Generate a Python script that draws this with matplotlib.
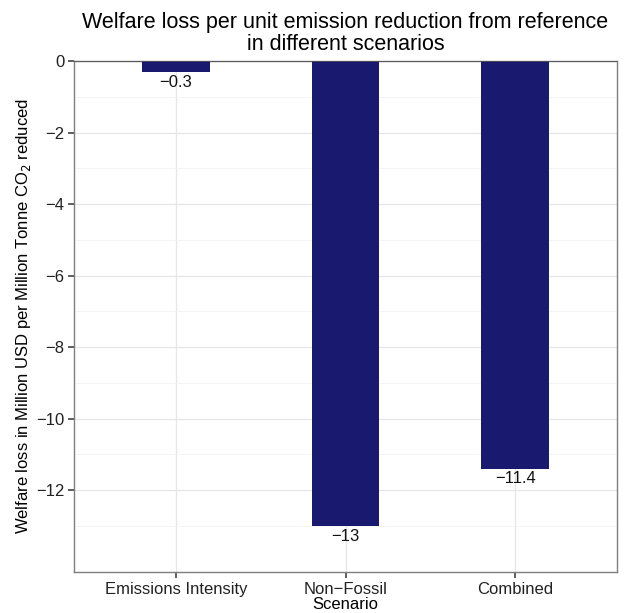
import numpy as np
import matplotlib.pyplot as plt

plt.rcParams['font.family'] = ['Liberation Sans', 'DejaVu Sans']

# data
scenarios = ['Emissions Intensity', 'Non\u2212Fossil', 'Combined']
welfare_loss = [-0.3, -13.0, -11.4]
labels = ['\u22120.3', '\u221213', '\u221211.4']
y_ticks = [0, -2, -4, -6, -8, -10, -12]

fig = plt.figure(figsize=(6.29, 6.13), dpi=100)
ax = fig.add_axes([74 / 629, 1 - 572 / 613, (617 - 74) / 629, (572 - 61) / 613])

x = np.arange(1, len(scenarios) + 1)
ax.bar(x, welfare_loss, width=0.4, color='#191970', zorder=3)

# labels under the bars
for xi, v, t in zip(x, welfare_loss, labels):
    ax.annotate(t, (xi, v), xytext=(0, -2), textcoords='offset points',
                ha='center', va='top', fontsize=12, color='#111111', zorder=4)

ax.axhline(0, color='#555555', linewidth=1.2, zorder=4)

ax.set_xlim(0.4, 3.6)
ax.set_ylim(-14.29, 0)
ax.set_xticks(x)
ax.set_xticklabels(scenarios, fontsize=12, color='#222222')
ax.set_yticks(y_ticks)
ax.set_yticklabels([str(t).replace('-', '\u2212') for t in y_ticks], fontsize=12, color='#222222')
ax.set_yticks(np.arange(-13, 0, 2), minor=True)
ax.tick_params(axis='both', which='major', length=4, width=1.1, color='#333333', pad=3)
ax.tick_params(axis='y', which='minor', length=0)

# grid like theme_bw
ax.grid(True, which='major', color='#e6e6e6', linewidth=0.9, zorder=0)
ax.grid(True, which='minor', axis='y', color='#f3f3f3', linewidth=0.6, zorder=0)
ax.set_axisbelow(True)
for s in ax.spines.values():
    s.set_color('#7f7f7f')
    s.set_linewidth(1.0)

ax.set_xlabel('Scenario', fontsize=12, labelpad=0)
ax.set_ylabel('Welfare loss in Million USD per Million Tonne CO$_2$ reduced', fontsize=12, labelpad=2)
ax.set_title('Welfare loss per unit emission reduction from reference\nin different scenarios',
             fontsize=15.5, linespacing=1.05, pad=8)

fig.savefig('out.png', dpi=100)
